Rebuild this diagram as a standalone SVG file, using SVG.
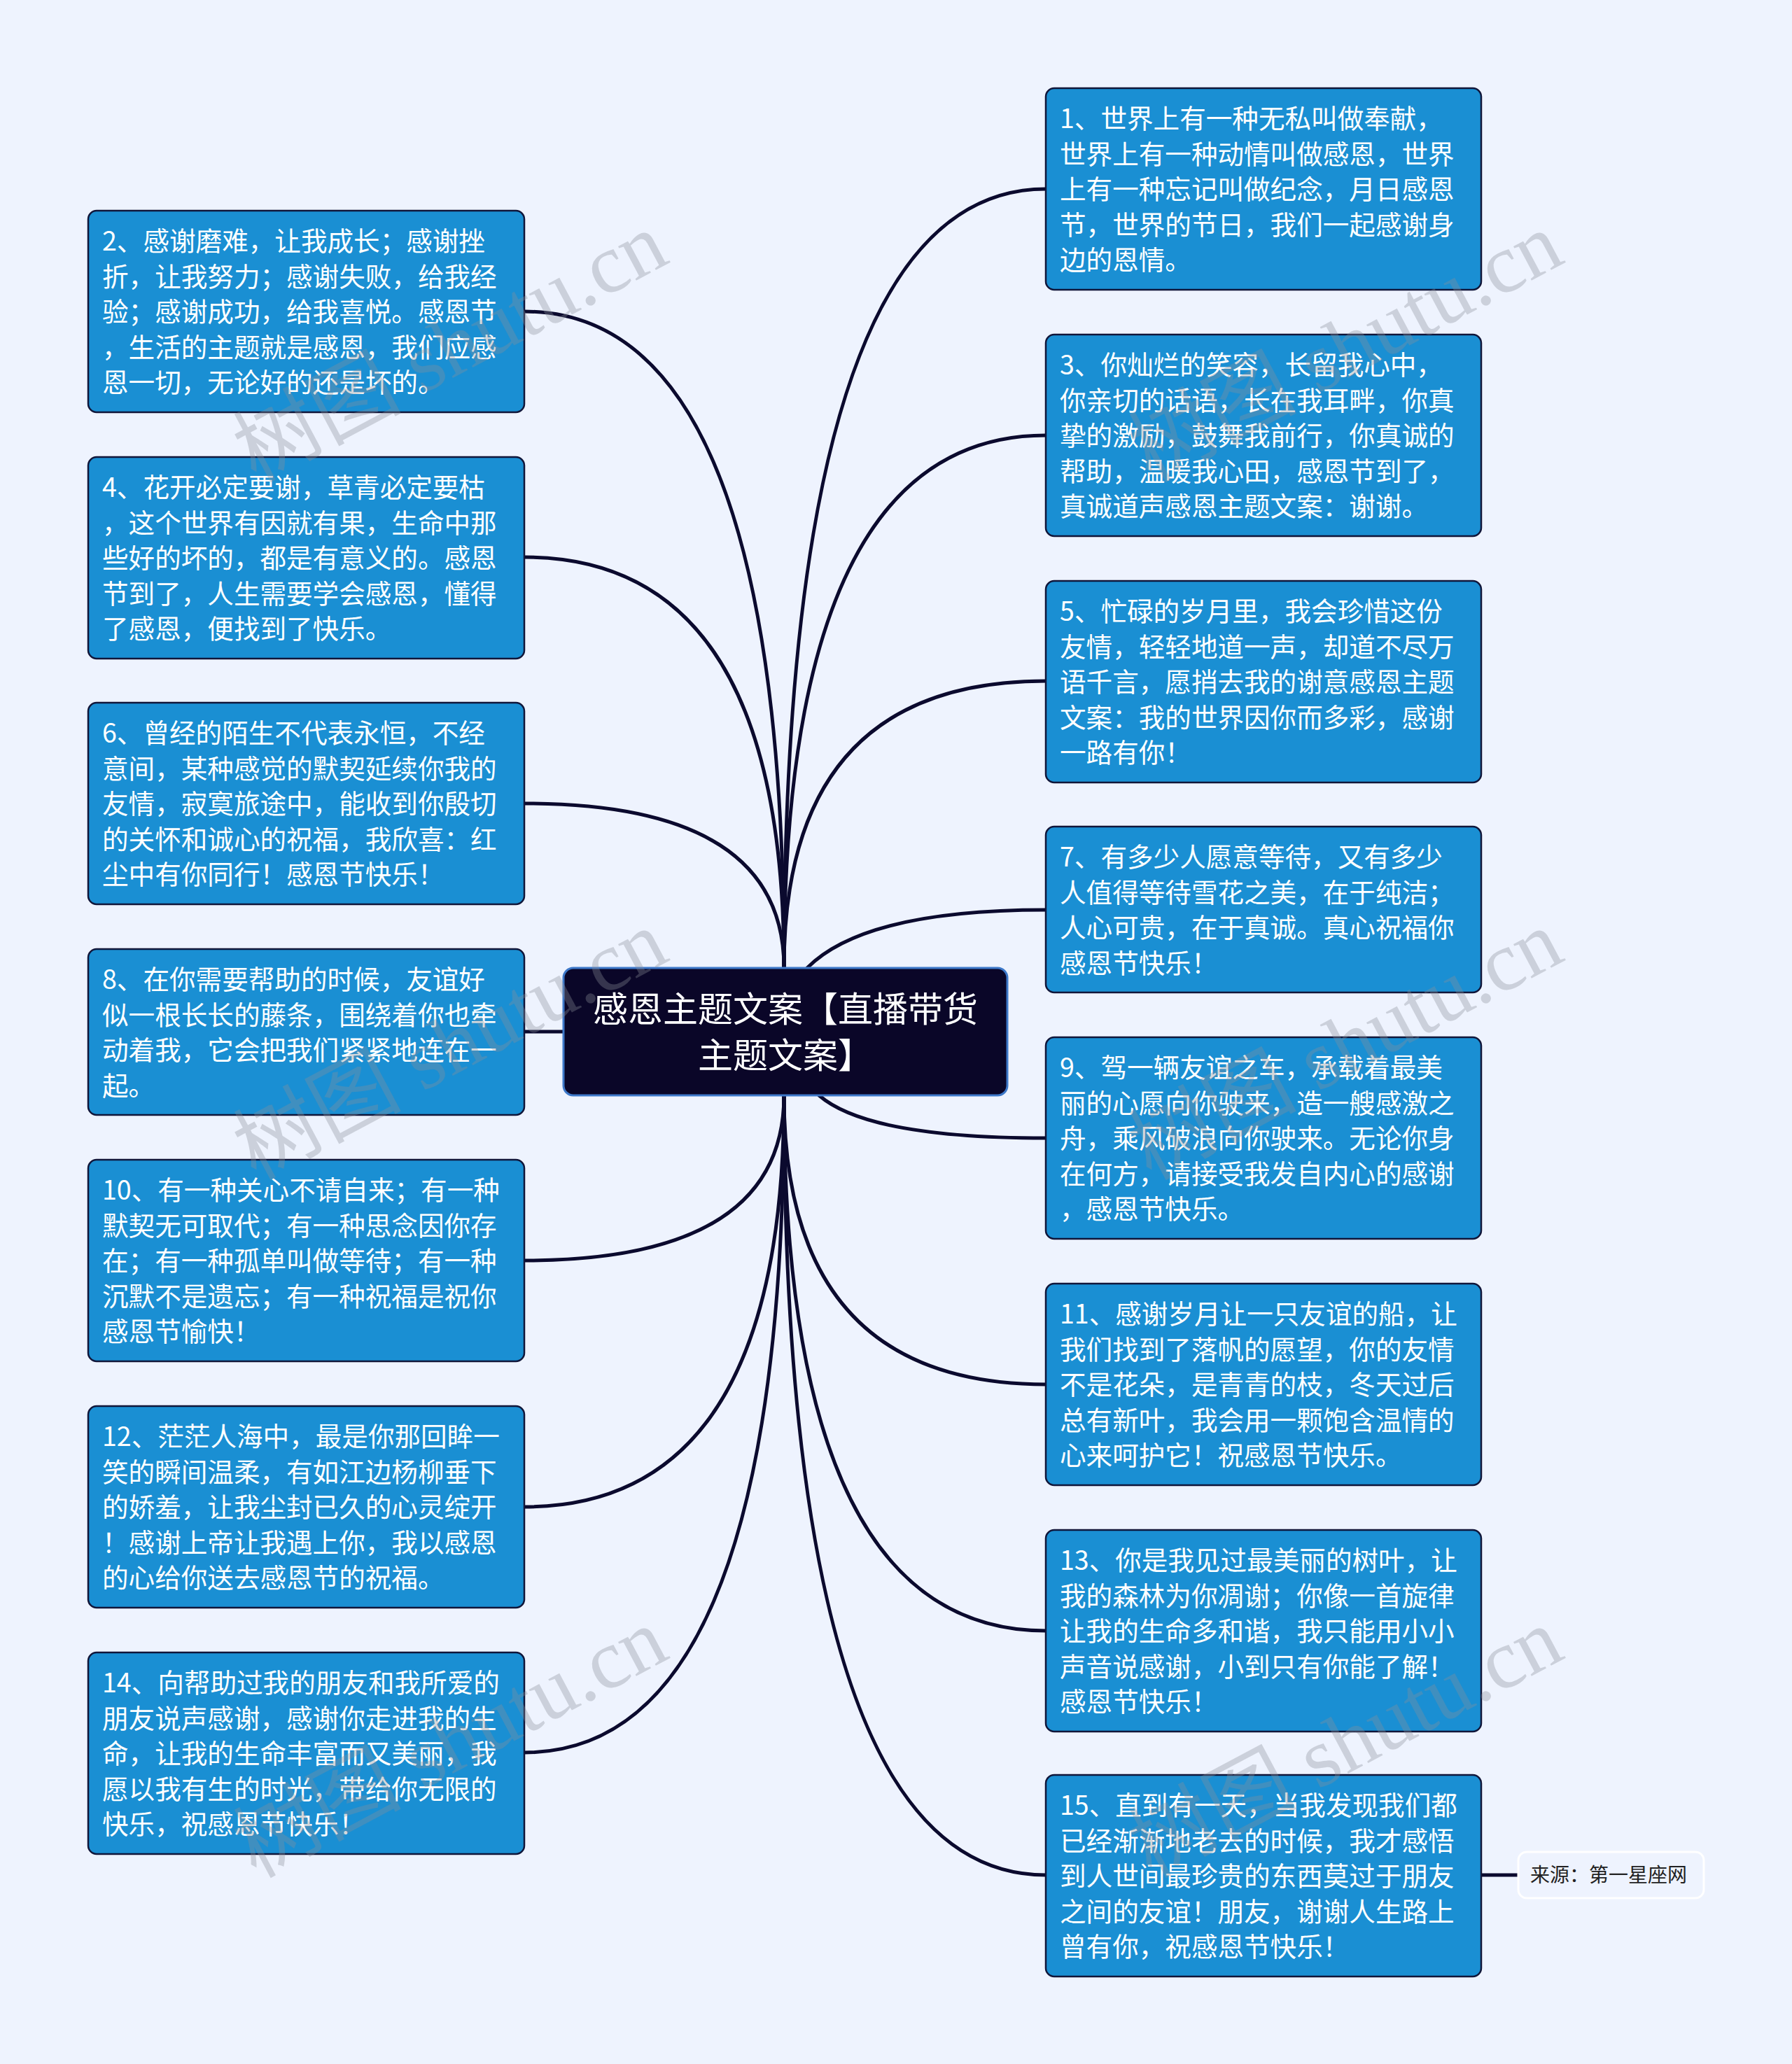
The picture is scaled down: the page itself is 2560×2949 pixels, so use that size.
<svg xmlns="http://www.w3.org/2000/svg" width="2560" height="2949" viewBox="0 0 2560 2949">
<style>
.bg{fill:#EEF3FE}
.nb{fill:#1A8FD3;stroke:#10163A;stroke-width:2.5}
.nt{font-family:"Noto Sans CJK SC","Noto Sans",sans-serif;font-size:37.6px;fill:#FFFFFF}
.cb{fill:#0A0628;stroke:#3D78C9;stroke-width:3}
.ct{font-family:"Noto Sans CJK SC","Noto Sans",sans-serif;font-size:50px;fill:#FFFFFF;text-anchor:middle}
.sb{fill:#EEF3FE;stroke:#FFFFFF;stroke-width:3}
.st{font-family:"Noto Sans CJK SC","Noto Sans",sans-serif;font-size:28px;fill:#222222}
.ln{fill:none;stroke:#0B0A2E;stroke-width:5;stroke-linecap:round}
.wm{font-family:"Liberation Serif","Noto Sans CJK SC",serif;font-size:120px;fill:#8A8F99;opacity:0.34}
</style>
<rect class="bg" x="0" y="0" width="2560" height="2949"/>

<g id="connectors">
<path class="ln" d="M1120 1383 Q1120 270 1494 270"/>
<path class="ln" d="M1120 1383 Q1120 622 1494 622"/>
<path class="ln" d="M1120 1383 Q1120 973 1494 973"/>
<path class="ln" d="M1153 1383 Q1235 1300 1494 1300"/>
<path class="ln" d="M1120 1383 Q1120 445 749 445"/>
<path class="ln" d="M1120 1383 Q1120 796 749 796"/>
<path class="ln" d="M1120 1383 Q1120 1148 749 1148"/>
<path class="ln" d="M805 1474 L749 1474"/>
<path class="ln" d="M1170 1565 Q1240 1626 1494 1626"/>
<path class="ln" d="M1120 1565 Q1120 1801 749 1801"/>
<path class="ln" d="M1120 1565 Q1120 1978 1494 1978"/>
<path class="ln" d="M1120 1565 Q1120 2153 749 2153"/>
<path class="ln" d="M1120 1565 Q1120 2330 1494 2330"/>
<path class="ln" d="M1120 1565 Q1120 2504 749 2504"/>
<path class="ln" d="M1120 1565 Q1120 2679 1494 2679"/>
<path class="ln" d="M2116 2679 L2169 2679"/>
</g>

<g id="center">
<rect class="cb" x="805" y="1383" width="634" height="182" rx="14"/>
<text class="ct" x="1122" y="1460">感恩主题文案【直播带货</text>
<text class="ct" x="1122" y="1526">主题文案】</text>
</g>

<g id="node1">
<rect class="nb" x="1494" y="126" width="622" height="288" rx="12"/>
<text class="nt" x="1514" y="183">1、世界上有一种无私叫做奉献，</text>
<text class="nt" x="1514" y="233.5">世界上有一种动情叫做感恩，世界</text>
<text class="nt" x="1514" y="284">上有一种忘记叫做纪念，月日感恩</text>
<text class="nt" x="1514" y="334.5">节，世界的节日，我们一起感谢身</text>
<text class="nt" x="1514" y="385">边的恩情。</text>
</g>

<g id="node2">
<rect class="nb" x="126" y="301" width="623" height="288" rx="12"/>
<text class="nt" x="146" y="358">2、感谢磨难，让我成长；感谢挫</text>
<text class="nt" x="146" y="408.5">折，让我努力；感谢失败，给我经</text>
<text class="nt" x="146" y="459">验；感谢成功，给我喜悦。感恩节</text>
<text class="nt" x="146" y="509.5">，生活的主题就是感恩，我们应感</text>
<text class="nt" x="146" y="560">恩一切，无论好的还是坏的。</text>
</g>

<g id="node3">
<rect class="nb" x="1494" y="478" width="622" height="288" rx="12"/>
<text class="nt" x="1514" y="535">3、你灿烂的笑容，长留我心中，</text>
<text class="nt" x="1514" y="585.5">你亲切的话语，长在我耳畔，你真</text>
<text class="nt" x="1514" y="636">挚的激励，鼓舞我前行，你真诚的</text>
<text class="nt" x="1514" y="686.5">帮助，温暖我心田，感恩节到了，</text>
<text class="nt" x="1514" y="737">真诚道声感恩主题文案：谢谢。</text>
</g>

<g id="node4">
<rect class="nb" x="126" y="653" width="623" height="288" rx="12"/>
<text class="nt" x="146" y="710">4、花开必定要谢，草青必定要枯</text>
<text class="nt" x="146" y="760.5">，这个世界有因就有果，生命中那</text>
<text class="nt" x="146" y="811">些好的坏的，都是有意义的。感恩</text>
<text class="nt" x="146" y="861.5">节到了，人生需要学会感恩，懂得</text>
<text class="nt" x="146" y="912">了感恩，便找到了快乐。</text>
</g>

<g id="node5">
<rect class="nb" x="1494" y="830" width="622" height="288" rx="12"/>
<text class="nt" x="1514" y="887">5、忙碌的岁月里，我会珍惜这份</text>
<text class="nt" x="1514" y="937.5">友情，轻轻地道一声，却道不尽万</text>
<text class="nt" x="1514" y="988">语千言，愿捎去我的谢意感恩主题</text>
<text class="nt" x="1514" y="1038.5">文案：我的世界因你而多彩，感谢</text>
<text class="nt" x="1514" y="1089">一路有你！</text>
</g>

<g id="node6">
<rect class="nb" x="126" y="1004" width="623" height="288" rx="12"/>
<text class="nt" x="146" y="1061">6、曾经的陌生不代表永恒，不经</text>
<text class="nt" x="146" y="1111.5">意间，某种感觉的默契延续你我的</text>
<text class="nt" x="146" y="1162">友情，寂寞旅途中，能收到你殷切</text>
<text class="nt" x="146" y="1212.5">的关怀和诚心的祝福，我欣喜：红</text>
<text class="nt" x="146" y="1263">尘中有你同行！感恩节快乐！</text>
</g>

<g id="node7">
<rect class="nb" x="1494" y="1181" width="622" height="237" rx="12"/>
<text class="nt" x="1514" y="1238">7、有多少人愿意等待，又有多少</text>
<text class="nt" x="1514" y="1288.5">人值得等待雪花之美，在于纯洁；</text>
<text class="nt" x="1514" y="1339">人心可贵，在于真诚。真心祝福你</text>
<text class="nt" x="1514" y="1389.5">感恩节快乐！</text>
</g>

<g id="node8">
<rect class="nb" x="126" y="1356" width="623" height="237" rx="12"/>
<text class="nt" x="146" y="1413">8、在你需要帮助的时候，友谊好</text>
<text class="nt" x="146" y="1463.5">似一根长长的藤条，围绕着你也牵</text>
<text class="nt" x="146" y="1514">动着我，它会把我们紧紧地连在一</text>
<text class="nt" x="146" y="1564.5">起。</text>
</g>

<g id="node9">
<rect class="nb" x="1494" y="1482" width="622" height="288" rx="12"/>
<text class="nt" x="1514" y="1539">9、驾一辆友谊之车，承载着最美</text>
<text class="nt" x="1514" y="1589.5">丽的心愿向你驶来，造一艘感激之</text>
<text class="nt" x="1514" y="1640">舟，乘风破浪向你驶来。无论你身</text>
<text class="nt" x="1514" y="1690.5">在何方，请接受我发自内心的感谢</text>
<text class="nt" x="1514" y="1741">，感恩节快乐。</text>
</g>

<g id="node10">
<rect class="nb" x="126" y="1657" width="623" height="288" rx="12"/>
<text class="nt" x="146" y="1714">10、有一种关心不请自来；有一种</text>
<text class="nt" x="146" y="1764.5">默契无可取代；有一种思念因你存</text>
<text class="nt" x="146" y="1815">在；有一种孤单叫做等待；有一种</text>
<text class="nt" x="146" y="1865.5">沉默不是遗忘；有一种祝福是祝你</text>
<text class="nt" x="146" y="1916">感恩节愉快！</text>
</g>

<g id="node11">
<rect class="nb" x="1494" y="1834" width="622" height="288" rx="12"/>
<text class="nt" x="1514" y="1891">11、感谢岁月让一只友谊的船，让</text>
<text class="nt" x="1514" y="1941.5">我们找到了落帆的愿望，你的友情</text>
<text class="nt" x="1514" y="1992">不是花朵，是青青的枝，冬天过后</text>
<text class="nt" x="1514" y="2042.5">总有新叶，我会用一颗饱含温情的</text>
<text class="nt" x="1514" y="2093">心来呵护它！祝感恩节快乐。</text>
</g>

<g id="node12">
<rect class="nb" x="126" y="2009" width="623" height="288" rx="12"/>
<text class="nt" x="146" y="2066">12、茫茫人海中，最是你那回眸一</text>
<text class="nt" x="146" y="2116.5">笑的瞬间温柔，有如江边杨柳垂下</text>
<text class="nt" x="146" y="2167">的娇羞，让我尘封已久的心灵绽开</text>
<text class="nt" x="146" y="2217.5">！感谢上帝让我遇上你，我以感恩</text>
<text class="nt" x="146" y="2268">的心给你送去感恩节的祝福。</text>
</g>

<g id="node13">
<rect class="nb" x="1494" y="2186" width="622" height="288" rx="12"/>
<text class="nt" x="1514" y="2243">13、你是我见过最美丽的树叶，让</text>
<text class="nt" x="1514" y="2293.5">我的森林为你凋谢；你像一首旋律</text>
<text class="nt" x="1514" y="2344">让我的生命多和谐，我只能用小小</text>
<text class="nt" x="1514" y="2394.5">声音说感谢，小到只有你能了解！</text>
<text class="nt" x="1514" y="2445">感恩节快乐！</text>
</g>

<g id="node14">
<rect class="nb" x="126" y="2361" width="623" height="288" rx="12"/>
<text class="nt" x="146" y="2418">14、向帮助过我的朋友和我所爱的</text>
<text class="nt" x="146" y="2468.5">朋友说声感谢，感谢你走进我的生</text>
<text class="nt" x="146" y="2519">命，让我的生命丰富而又美丽，我</text>
<text class="nt" x="146" y="2569.5">愿以我有生的时光，带给你无限的</text>
<text class="nt" x="146" y="2620">快乐，祝感恩节快乐！</text>
</g>

<g id="node15">
<rect class="nb" x="1494" y="2536" width="622" height="288" rx="12"/>
<text class="nt" x="1514" y="2593">15、直到有一天，当我发现我们都</text>
<text class="nt" x="1514" y="2643.5">已经渐渐地老去的时候，我才感悟</text>
<text class="nt" x="1514" y="2694">到人世间最珍贵的东西莫过于朋友</text>
<text class="nt" x="1514" y="2744.5">之间的友谊！朋友，谢谢人生路上</text>
<text class="nt" x="1514" y="2795">曾有你，祝感恩节快乐！</text>
</g>

<g id="source">
<rect class="sb" x="2169" y="2646" width="265" height="66" rx="12"/>
<text class="st" x="2186" y="2689">来源：第一星座网</text>
</g>

<g id="watermarks">
<text class="wm" transform="translate(365 690) rotate(-28)">树图 shutu.cn</text>
<text class="wm" transform="translate(1644 690) rotate(-28)">树图 shutu.cn</text>
<text class="wm" transform="translate(365 1687) rotate(-28)">树图 shutu.cn</text>
<text class="wm" transform="translate(1644 1687) rotate(-28)">树图 shutu.cn</text>
<text class="wm" transform="translate(365 2684) rotate(-28)">树图 shutu.cn</text>
<text class="wm" transform="translate(1644 2684) rotate(-28)">树图 shutu.cn</text>
</g>
</svg>
